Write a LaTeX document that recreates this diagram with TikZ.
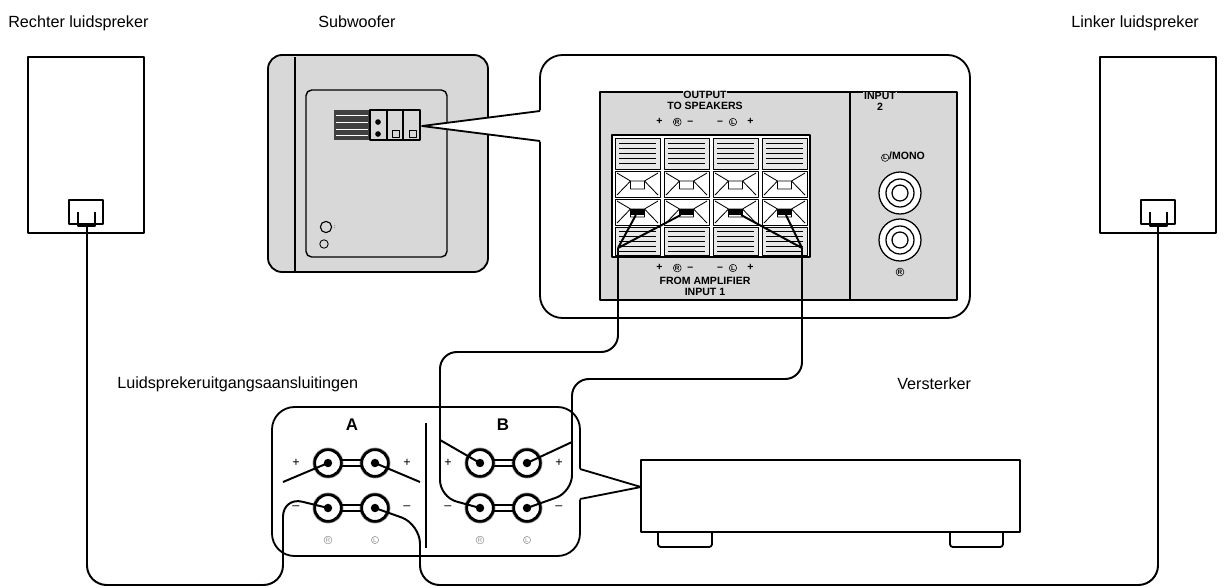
\documentclass[tikz,border=0pt]{standalone}
\usepackage{fontspec}
\setmainfont{Liberation Sans}
\usetikzlibrary{positioning}

\definecolor{panelgray}{RGB}{216,216,216}
\definecolor{ringgray}{RGB}{150,150,150}
\newcommand{\encirc}[1]{\tikz[baseline=(c.base)]\node[circle, draw, inner sep=0.4pt, line width=0.4pt, font=\fontsize{4.5}{5}\selectfont] (c) {#1};}

\begin{document}
\begin{tikzpicture}[x=0.025cm, y=-0.025cm, line join=round,
    label text/.style={font=\fontsize{11.5}{13}\selectfont, anchor=base west, inner sep=0pt},
    tiny text/.style={font=\fontsize{7.5}{8}\selectfont\bfseries, inner sep=0.5pt},
    box/.style={draw, line width=1.3pt},
    wire/.style={draw, line width=1.4pt, rounded corners=12},
    post/.style={circle, draw, line width=2pt, minimum size=19pt, fill=white},
    clip tag/.style={fill=black, minimum width=10pt, minimum height=4pt, inner sep=0pt}]

  \useasboundingbox (0,0) rectangle (1226,587);

  % labels
  \node[label text] (rlabel) at (8,27) {Rechter luidspreker};
  \node[label text] (swlabel) at (318,27) {Subwoofer};
  \node[label text] (llabel) at (1071,27) {Linker luidspreker};
  \node[label text] (outlabel) at (117,388) {Luidsprekeruitgangsaansluitingen};
  \node[label text] (amplabel) at (897,389) {Versterker};

  % speakers
  \draw[box] (28,57) rectangle (144,233);
  \draw[box] (69,200) rectangle (103,224);
  \draw[line width=1pt] (78,212) -- (78,226) -- (95,226) -- (95,212);
  \coordinate (rterm) at (87,227);
  \draw[box] (1100,57) rectangle (1216,233);
  \draw[box] (1141,200) rectangle (1175,224);
  \draw[line width=1pt] (1150,212) -- (1150,226) -- (1167,226) -- (1167,212);
  \coordinate (lterm) at (1158,227);

  % subwoofer
  \draw[box, fill=panelgray, rounded corners=10] (268,55) rectangle (488,272);
  \draw[line width=1.2pt] (295,57) -- (295,271);
  \draw[line width=1pt, rounded corners=4] (306,90) rectangle (447,257);
  \fill[black!75] (334,110) rectangle (370,140);
  \foreach \yy in {115,122,129,135} \draw[white, line width=0.6pt] (336,\yy) -- (368,\yy);
  \draw[line width=0.8pt] (370,110) rectangle (387,140) (387,110) rectangle (403,140) (403,110) rectangle (420,140);
  \draw[line width=0.6pt] (392,130) rectangle (399,137) (409,130) rectangle (416,137);
  \fill (378,122) circle (2pt) (378,134) circle (2pt);
  \draw[line width=0.8pt] (326,227) circle (4pt);
  \draw[line width=0.6pt] (324,244) circle (3pt);
  \node[font=\fontsize{4}{4}\selectfont, inner sep=0pt] (knob) at (335,227) {:};

  % callout with terminal panel
  \draw[box, fill=white, rounded corners=16] (540,55) rectangle (970,318);
  \fill[white] (543,110) -- (422,126) -- (543,142) -- cycle;
  \draw[line width=1.3pt] (540,111) -- (422,126) -- (540,141);
  \draw[line width=1pt, fill=panelgray] (600,92) rectangle (850,300);
  \draw[line width=1pt, fill=panelgray] (850,92) rectangle (957,300);
  \node[tiny text, fill=panelgray] (outtxt) at (705,95) {OUTPUT};
  \node[tiny text] (tospk) at (705,106) {TO SPEAKERS};
  \node[tiny text] (topsigns) at (705,122) {+\quad\encirc{R}\;\;--\qquad\;--\;\;\encirc{L}\quad+};
  \node[tiny text] (botsigns) at (705,268) {+\quad\encirc{R}\;\;--\qquad\;--\;\;\encirc{L}\quad+};
  \node[tiny text] (fromamp) at (705,281) {FROM AMPLIFIER};
  \node[tiny text, fill=panelgray] (in1) at (705,292) {INPUT 1};
  \node[tiny text, fill=panelgray] (in2) at (880,96) {INPUT};
  \node[tiny text] (in2b) at (880,107) {2};
  \node[tiny text] (mono) at (903,157) {\encirc{L}/MONO};
  \node[tiny text] (rjack) at (900,272) {\encirc{R}};
  \foreach \cy in {193,240} {
    \draw[line width=0.9pt, fill=white] (900,\cy) circle (21);
    \draw[line width=0.9pt] (900,\cy) circle (14) (900,\cy) circle (8);
  }
  \draw[line width=1pt, fill=white] (612,135) rectangle (810,257);
  \foreach \i in {0,...,3} {
    \pgfmathsetmacro{\xa}{615+\i*49}
    \pgfmathsetmacro{\xb}{\xa+45}
    \pgfmathsetmacro{\xc}{\xa+22.5}
    \draw[line width=0.7pt, fill=panelgray!60] (\xa,138) rectangle (\xb,169) (\xa,227) rectangle (\xb,255);
    \foreach \yy in {143,148,...,166} \draw[line width=0.4pt] (\xa+4,\yy) -- (\xb-4,\yy);
    \foreach \yy in {231,236,...,252} \draw[line width=0.4pt] (\xa+4,\yy) -- (\xb-4,\yy);
    \foreach \ya in {171,199} {
      \draw[line width=0.7pt, fill=white] (\xa,\ya) rectangle (\xb,\ya+26);
      \draw[line width=0.6pt] (\xa+2,\ya+2) -- (\xc-7,\ya+10) -- (\xa+2,\ya+24)
                              (\xb-2,\ya+2) -- (\xc+7,\ya+10) -- (\xb-2,\ya+24)
                              (\xc-7,\ya+10) rectangle (\xc+7,\ya+18);
    }
  }
  \node[clip tag] (sRp) at (637.5,212) {};
  \node[clip tag] (sRm) at (686.5,212) {};
  \node[clip tag] (sLm) at (735.5,212) {};
  \node[clip tag] (sLp) at (784.5,212) {};

  % terminal panel of the amplifier
  \draw[box, fill=white, rounded corners=16] (272,407) rectangle (580,556);
  \fill[white] (577,468) -- (641,487) -- (577,500) -- cycle;
  \draw[line width=1.3pt] (580,469) -- (641,487) -- (580,499);
  \draw[line width=1.3pt] (426,423) -- (426,548);
  \node[font=\bfseries\large] (alabel) at (352,425) {A};
  \node[font=\bfseries\large] (blabel) at (503,425) {B};
  \foreach \nx/\sx/\lx in {a/328/375, b/480/527} {
    \foreach \ny/\sy in {p/463, m/508} {
      \draw[ringgray, line width=0.6pt] (\sx,\sy) circle (15) (\lx,\sy) circle (15);
      \draw[line width=0.8pt] (\sx+14,\sy-3) -- (\lx-14,\sy-3) (\sx+14,\sy+3) -- (\lx-14,\sy+3);
      \node[post] (\nx R\ny) at (\sx,\sy) {};
      \node[post] (\nx L\ny) at (\lx,\sy) {};
    }
    \node[font=\small] at (\sx-32,463) {+};
    \node[font=\small] at (\lx+32,463) {+};
    \node[font=\small] at (\sx-32,508) {--};
    \node[font=\small] at (\lx+32,508) {--};
    \node[text=ringgray, ringgray] at (\sx,540) {\color{ringgray}\encirc{R}};
    \node[text=ringgray] at (\lx,540) {\color{ringgray}\encirc{L}};
  }

  % amplifier
  \draw[box] (641,460) rectangle (1020,532);
  \draw[line width=1.3pt, rounded corners=2] (658,532) -- (658,547) -- (712,547) -- (712,532);
  \draw[line width=1.3pt, rounded corners=2] (950,532) -- (950,547) -- (1003,547) -- (1003,532);

  % wires from subwoofer to B
  \draw[line width=1.4pt] (sRp) -- (618,248) (sRm) -- (618,248);
  \draw[line width=1.4pt] (sLm) -- (802,248) (sLp) -- (802,248);
  \draw[wire] (618,248) -- (618,352) -- (440,352) -- (440,497) -- (bRm.center);
  \draw[wire] (440,440) -- (bRp.center);
  \draw[wire] (802,248) -- (802,379) -- (572,379) -- (572,492) -- (bLm.center);
  \draw[wire] (572,442) -- (bLp.center);

  % wires from speakers to A
  \draw[wire, rounded corners=14] (rterm) -- (87,585) -- (283,585) -- (283,497) -- (aRm.center);
  \draw[wire] (283,482) -- (aRp.center);
  \draw[wire, rounded corners=14] (lterm) -- (1158,585) -- (420,585) -- (420,524) -- (aLm.center);
  \draw[wire] (420,482) -- (aLp.center);

  % terminal screws
  \foreach \p in {aRp,aRm,aLp,aLm,bRp,bRm,bLp,bLm} \fill (\p) circle (3pt);
\end{tikzpicture}
\end{document}
